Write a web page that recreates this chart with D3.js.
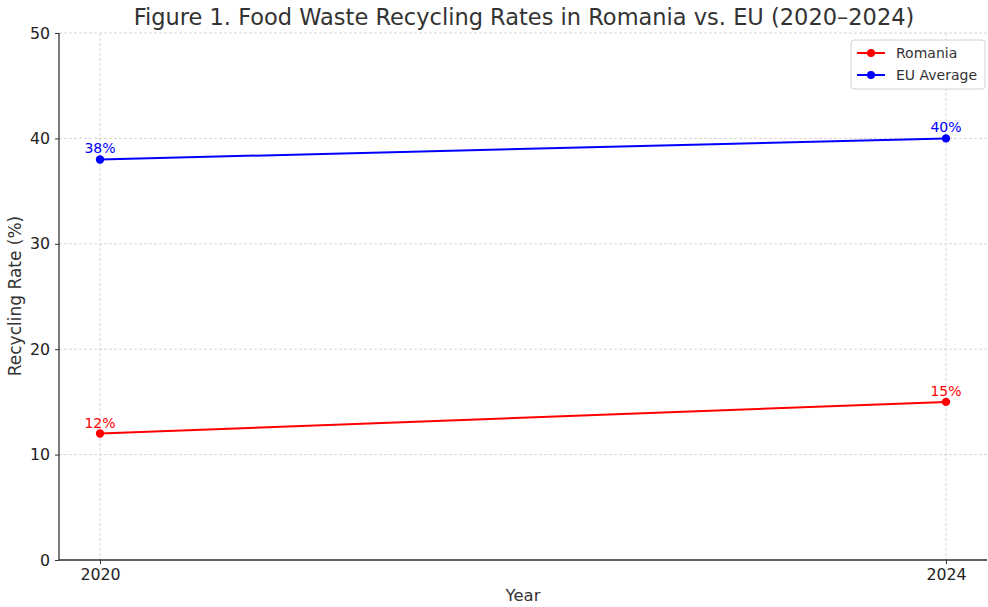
<!DOCTYPE html>
<html><head><meta charset="utf-8">
<script src="https://cdn.jsdelivr.net/npm/d3@7"></script>
<style>body{margin:0;background:#fff;}svg{display:block;font-family:"DejaVu Sans",sans-serif;}</style>
</head><body><svg id="c" width="988" height="607"></svg>
<script>
const years = [2020, 2024];
const romania = [12, 15];
const euAverage = [38, 40];
const yTicks = [0, 10, 20, 30, 40, 50];
const seriesNames = ["Romania", "EU Average"];
const seriesColors = ["#ff0000", "#0000ff"];

const svg = d3.select("#c");
const m = {l: 59, r: 987, t: 33, b: 560};
const x = d3.scaleLinear().domain([2019.806, 2024.194]).range([m.l, m.r]);
const y = d3.scaleLinear().domain([0, 50]).range([m.b, m.t]);

// grid
const g = svg.append("g");
g.selectAll(".hg").data(yTicks).join("line")
  .attr("x1", m.l).attr("x2", m.r).attr("y1", d => y(d)).attr("y2", d => y(d))
  .attr("stroke", "#cccccc").attr("stroke-width", 0.8).attr("stroke-dasharray", "3,2");
g.selectAll(".vg").data(years).join("line")
  .attr("y1", m.t).attr("y2", m.b).attr("x1", d => x(d)).attr("x2", d => x(d))
  .attr("stroke", "#cccccc").attr("stroke-width", 0.8).attr("stroke-dasharray", "3,2");

// axes
const ax = svg.append("g").attr("transform", `translate(0,${m.b})`)
  .call(d3.axisBottom(x).tickValues(years).tickFormat(d3.format("d")).tickSize(4).tickPadding(5));
const ay = svg.append("g").attr("transform", `translate(${m.l},0)`)
  .call(d3.axisLeft(y).tickValues(yTicks).tickSize(4).tickPadding(5));
[ax, ay].forEach(a => {
  a.select(".domain").attr("stroke", "#333").attr("stroke-width", 1.3);
  a.selectAll(".tick line").attr("stroke", "#333");
  a.selectAll(".tick text").attr("fill", "#222").attr("font-size", 15.8).attr("font-family", "DejaVu Sans");
});
ax.select(".domain").attr("d", `M${m.l},0H${m.r}`);
ay.select(".domain").attr("d", `M0,${m.b}V${m.t}`);

// series
const data = [romania, euAverage];
data.forEach((vals, i) => {
  const pts = years.map((yr, j) => [yr, vals[j]]);
  svg.append("path").datum(pts)
    .attr("d", d3.line().x(d => x(d[0])).y(d => y(d[1])))
    .attr("fill", "none").attr("stroke", seriesColors[i]).attr("stroke-width", 2);
  svg.selectAll(null).data(pts).join("circle")
    .attr("cx", d => x(d[0])).attr("cy", d => y(d[1])).attr("r", 4.2).attr("fill", seriesColors[i]);
  svg.selectAll(null).data(pts).join("text")
    .attr("x", d => x(d[0])).attr("y", d => y(d[1]) - 6)
    .attr("text-anchor", "middle").attr("font-size", 14).attr("fill", seriesColors[i])
    .text(d => d[1] + "%");
});

// title & labels
svg.append("text").attr("x", 524).attr("y", 25).attr("text-anchor", "middle")
  .attr("font-size", 22.5).attr("fill", "#333").text("Figure 1. Food Waste Recycling Rates in Romania vs. EU (2020\u20132024)");
svg.append("text").attr("x", 523).attr("y", 601).attr("text-anchor", "middle")
  .attr("font-size", 16.5).attr("fill", "#333").text("Year");
svg.append("text").attr("transform", "translate(21,296) rotate(-90)").attr("text-anchor", "middle")
  .attr("font-size", 17).attr("fill", "#333").text("Recycling Rate (%)");

// legend
const lg = svg.append("g").attr("transform", "translate(851,40)");
lg.append("rect").attr("width", 134).attr("height", 49).attr("rx", 3)
  .attr("fill", "#fff").attr("fill-opacity", 0.8).attr("stroke", "#d0d0d0");
seriesNames.forEach((n, i) => {
  const yy = 13 + i * 22;
  lg.append("line").attr("x1", 6).attr("x2", 34).attr("y1", yy).attr("y2", yy)
    .attr("stroke", seriesColors[i]).attr("stroke-width", 2);
  lg.append("circle").attr("cx", 20).attr("cy", yy).attr("r", 4).attr("fill", seriesColors[i]);
  lg.append("text").attr("x", 45).attr("y", yy + 5).attr("font-size", 14).attr("fill", "#333").text(n);
});
</script></body></html>
